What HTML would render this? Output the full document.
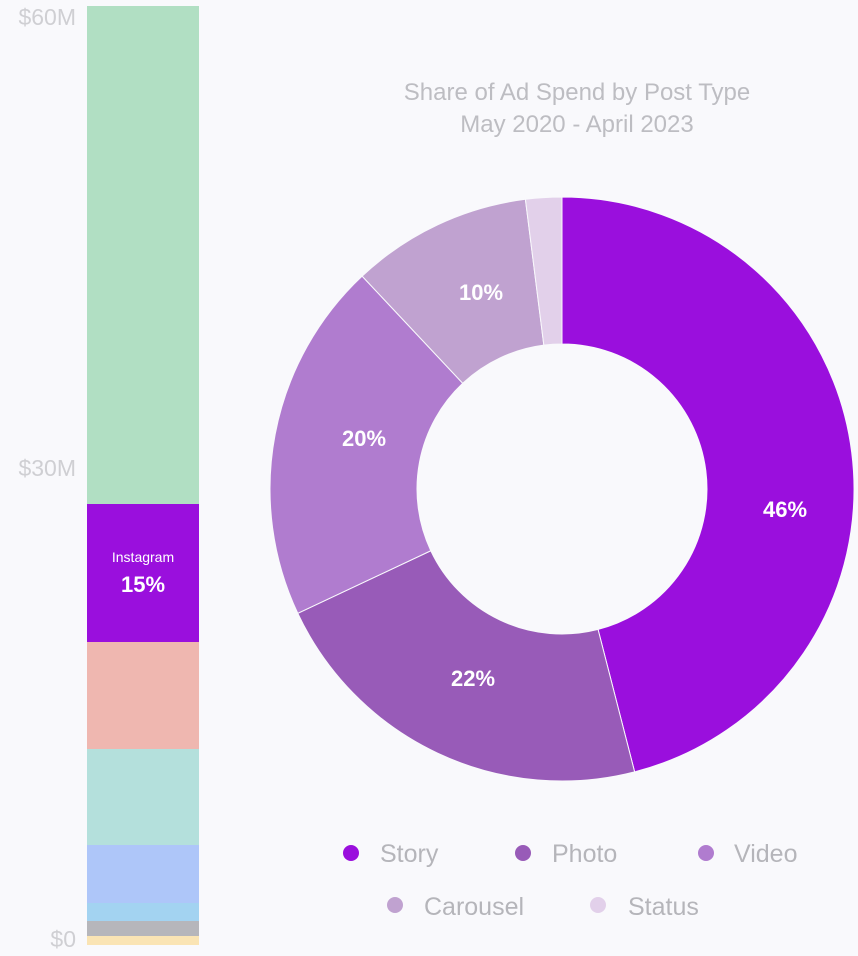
<!DOCTYPE html>
<html><head><meta charset="utf-8"><style>
html,body{margin:0;padding:0;background:#f9f9fc;width:858px;height:956px;overflow:hidden;font-family:"Liberation Sans","DejaVu Sans",sans-serif}
</style></head><body>
<svg id="s" width="858" height="956" xmlns="http://www.w3.org/2000/svg">
<rect width="858" height="956" fill="#f9f9fc"/>
<g font-size="23" fill="#cfcfd3" text-anchor="end">
<text x="76" y="25">$60M</text>
<text x="76" y="476">$30M</text>
<text x="76" y="947">$0</text>
</g>
<rect x="87" y="6" width="112" height="498" fill="#b1dfc3"/>
<rect x="87" y="504" width="112" height="138" fill="#9a0fdd"/>
<rect x="87" y="642" width="112" height="107" fill="#efb7b0"/>
<rect x="87" y="749" width="112" height="96" fill="#b4e0dc"/>
<rect x="87" y="845" width="112" height="58" fill="#aec6f9"/>
<rect x="87" y="903" width="112" height="18" fill="#a3d3f1"/>
<rect x="87" y="921" width="112" height="15" fill="#b6b6bb"/>
<rect x="87" y="936" width="112" height="9" fill="#fae4b4"/>
<text x="143" y="562" fill="#fff" font-size="14" text-anchor="middle">Instagram</text>
<text x="143" y="592" fill="#fff" font-size="22" font-weight="bold" text-anchor="middle">15%</text>
<g font-size="24" fill="#bdbdc2" text-anchor="middle">
<text x="577" y="100">Share of Ad Spend by Post Type</text>
<text x="577" y="132">May 2020 - April 2023</text>
</g>
<g id="d"></g>
<g font-size="22" font-weight="bold" fill="#fff" text-anchor="middle">
<text x="785" y="517">46%</text>
<text x="473" y="686">22%</text>
<text x="364" y="446">20%</text>
<text x="481" y="300">10%</text>
</g>
<g font-size="25" fill="#b5b5ba">
<circle cx="351" cy="853" r="8" fill="#9a0fdd"/><text x="380" y="862">Story</text>
<circle cx="523" cy="853" r="8" fill="#985bb8"/><text x="552" y="862">Photo</text>
<circle cx="706" cy="853" r="8" fill="#b07ccf"/><text x="734" y="862">Video</text>
<circle cx="395" cy="905" r="8" fill="#c0a2d0"/><text x="424" y="915">Carousel</text>
<circle cx="598" cy="905" r="8" fill="#e2d0ea"/><text x="628" y="915">Status</text>
</g>
</svg>
<script>
var cx=562,cy=489,R=292,r=145;
var d=[[46,"#9a0fdd"],[22,"#985bb8"],[20,"#b07ccf"],[10,"#c0a2d0"],[2,"#e2d0ea"]];
var a=0,h="";
function p(ang,rad){var t=ang*Math.PI/180;return (cx+rad*Math.sin(t)).toFixed(2)+","+(cy-rad*Math.cos(t)).toFixed(2);}
d.forEach(function(s){var b=a+s[0]*3.6;var l=(b-a)>180?1:0;
h+='<path d="M'+p(a,R)+' A'+R+','+R+' 0 '+l+' 1 '+p(b,R)+' L'+p(b,r)+' A'+r+','+r+' 0 '+l+' 0 '+p(a,r)+' Z" fill="'+s[1]+'" stroke="#f9f9fc" stroke-width="1"/>';a=b;});
document.getElementById("d").innerHTML=h;
</script>
</body></html>
